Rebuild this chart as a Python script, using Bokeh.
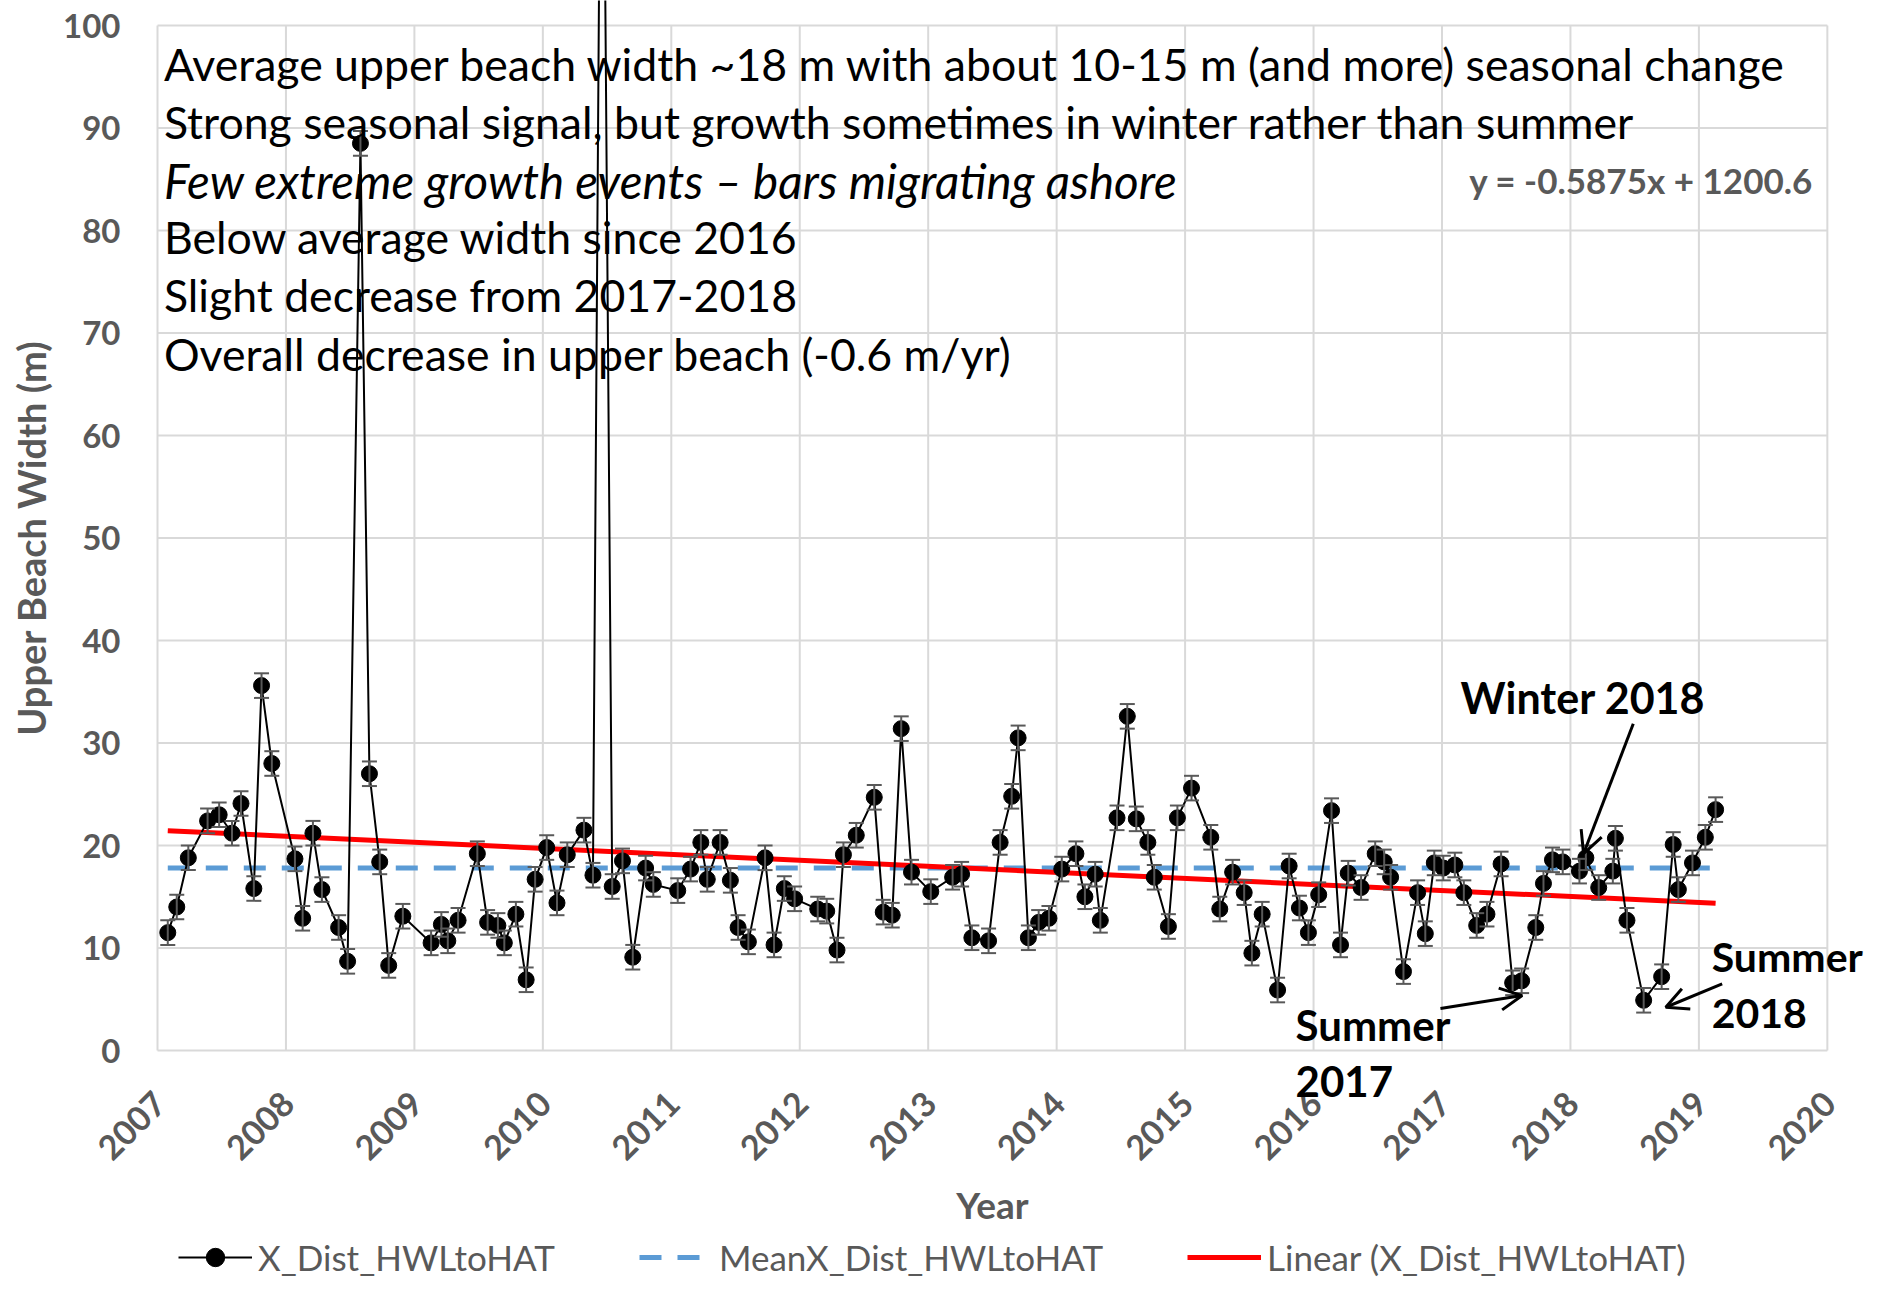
import math
from bokeh.plotting import figure
from bokeh.models import (ColumnDataSource, Whisker, TeeHead, Label, Arrow, OpenHead,
                          Legend, LegendItem, Range1d)
from bokeh.core.properties import value
from bokeh.embed import file_html
from bokeh.resources import INLINE

# ---------------- data ----------------
dates = [2007.08, 2007.15, 2007.24, 2007.39, 2007.48, 2007.58, 2007.65, 2007.75, 2007.81, 2007.89,
         2008.07, 2008.13, 2008.21, 2008.28, 2008.41, 2008.48, 2008.58, 2008.65, 2008.73, 2008.80, 2008.91,
         2009.13, 2009.21, 2009.26, 2009.34, 2009.49, 2009.57, 2009.65, 2009.70, 2009.79, 2009.87, 2009.94,
         2010.03, 2010.11, 2010.19, 2010.32, 2010.39, 2010.46, 2010.54, 2010.62, 2010.70, 2010.80, 2010.86,
         2011.05, 2011.15, 2011.23, 2011.28, 2011.38, 2011.46, 2011.52, 2011.60, 2011.73, 2011.80, 2011.88, 2011.96,
         2012.14, 2012.21, 2012.29, 2012.34, 2012.44, 2012.58, 2012.65, 2012.72, 2012.79, 2012.87,
         2013.02, 2013.19, 2013.26, 2013.34, 2013.47, 2013.56, 2013.65, 2013.70, 2013.78, 2013.86, 2013.94,
         2014.04, 2014.15, 2014.22, 2014.30, 2014.34, 2014.47, 2014.55, 2014.62, 2014.71, 2014.76, 2014.87, 2014.94,
         2015.05, 2015.20, 2015.27, 2015.37, 2015.46, 2015.52, 2015.60, 2015.72, 2015.81, 2015.89, 2015.96,
         2016.04, 2016.14, 2016.21, 2016.27, 2016.37, 2016.48, 2016.55, 2016.60, 2016.70, 2016.81, 2016.87, 2016.94,
         2017.01, 2017.10, 2017.17, 2017.27, 2017.35, 2017.46, 2017.55, 2017.62, 2017.73, 2017.79, 2017.86, 2017.94,
         2018.07, 2018.12, 2018.22, 2018.33, 2018.35, 2018.44, 2018.57, 2018.71, 2018.80, 2018.84, 2018.95,
         2019.05, 2019.13]

width_m = [11.5, 14.0, 18.8, 22.4, 23.0, 21.2, 24.1, 15.8, 35.6, 28.0,
           18.7, 12.9, 21.2, 15.7, 12.0, 8.7, 88.5, 27.0, 18.4, 8.3, 13.1,
           10.5, 12.3, 10.7, 12.7, 19.2, 12.5, 12.2, 10.5, 13.3, 6.9, 16.7,
           19.8, 14.4, 19.1, 21.5, 17.1, 145.0, 16.0, 18.5, 9.1, 17.8, 16.2,
           15.6, 17.7, 20.3, 16.7, 20.3, 16.6, 12.0, 10.6, 18.8, 10.3, 15.8, 14.8,
           13.8, 13.6, 9.8, 19.1, 21.0, 24.7, 13.5, 13.2, 31.4, 17.4,
           15.5, 16.9, 17.2, 11.0, 10.7, 20.3, 24.8, 30.5, 11.0, 12.5, 12.9,
           17.7, 19.2, 15.0, 17.2, 12.7, 22.7, 32.6, 22.6, 20.3, 16.9, 12.1, 22.7,
           25.6, 20.8, 13.8, 17.4, 15.4, 9.5, 13.3, 5.9, 18.0, 13.9, 11.5,
           15.2, 23.4, 10.3, 17.3, 15.9, 19.2, 18.4, 16.9, 7.7, 15.4, 11.4, 18.3,
           17.8, 18.1, 15.4, 12.2, 13.3, 18.2, 6.6, 6.8, 12.0, 16.3, 18.6, 18.4,
           17.5, 18.8, 15.9, 17.5, 20.7, 12.7, 4.9, 7.2, 20.1, 15.7, 18.3,
           20.8, 23.5]

error_m = 1.2                 # error bar half-height
mean_width = 17.8             # MeanX_Dist_HWLtoHAT
trend_slope = -0.5875         # y = -0.5875x + 1200.6
trend_intercept = 1200.6

year_ticks = list(range(2007, 2021))
year_labels = [str(t) for t in year_ticks]
width_ticks = list(range(0, 101, 10))
width_labels = [str(t) for t in width_ticks]
x_start, x_end = 2007, 2020
y_start, y_end = 0, 100

notes = ["Average upper beach width ~18 m with about 10-15 m (and more) seasonal change",
         "Strong seasonal signal, but growth sometimes in winter rather than summer",
         "Few extreme growth events \u2013 bars migrating ashore",
         "Below average width since 2016",
         "Slight decrease from 2017-2018",
         "Overall decrease in upper beach (-0.6 m/yr)"]
notes_italic = [False, False, True, False, False, False]

assert len(dates) == len(width_m)

# ---------------- layout / styling ----------------
FONT = "Lato"
GREY = "#595959"
GRID = "#D9D9D9"
BLUE = "#5B9BD5"
RED = "#FF0000"

W, H = 1868, 1278
AREA_LEFT, AREA_TOP = 157, 25        # where 2007 / 100 m sit on the canvas
PX_PER_YEAR = 128.45
PX_PER_M = 10.25
# the frame covers the whole canvas, so that the axis texts, callouts and legend
# outside the 2007-2020 / 0-100 plotting area are drawn too
x0_view = x_start - AREA_LEFT / PX_PER_YEAR
x1_view = x0_view + W / PX_PER_YEAR
y1_view = y_end + AREA_TOP / PX_PER_M
xr = Range1d(x0_view, x1_view)
yr = Range1d(y1_view - H / PX_PER_M, y1_view)

p = figure(width=W, height=H, output_backend="svg", toolbar_location=None,
           x_range=xr, y_range=yr,
           min_border_left=0, min_border_top=0, min_border_right=0, min_border_bottom=0)
p.frame_width = W
p.frame_height = H
p.outline_line_color = None
p.background_fill_color = "white"
p.border_fill_color = "white"
p.xgrid.visible = False
p.ygrid.visible = False
p.xaxis.visible = False
p.yaxis.visible = False

# gridlines of the plotting area
p.segment(x0=year_ticks, y0=[y_start] * len(year_ticks), x1=year_ticks, y1=[y_end] * len(year_ticks),
          line_color=GRID, line_width=2)
p.segment(x0=[x_start] * len(width_ticks), y0=width_ticks, x1=[x_end] * len(width_ticks), y1=width_ticks,
          line_color=GRID, line_width=2)

# ---------------- data glyphs ----------------
src = ColumnDataSource(dict(x=dates, y=width_m,
                            upper=[v + error_m for v in width_m],
                            lower=[v - error_m for v in width_m]))

mean_r = p.line([dates[0], dates[-1]], [mean_width, mean_width], line_color=BLUE,
                line_width=5, line_dash="22 16")
trend_x = [dates[0], dates[-1]]
trend_r = p.line(trend_x, [trend_slope * x + trend_intercept for x in trend_x],
                 line_color=RED, line_width=5)

whisk = Whisker(source=src, base="x", upper="upper", lower="lower",
                line_color=GREY, line_width=2, level="glyph",
                upper_head=TeeHead(size=15, line_color=GREY, line_width=2),
                lower_head=TeeHead(size=15, line_color=GREY, line_width=2))
p.add_layout(whisk)

data_line = p.line("x", "y", source=src, line_color="black", line_width=2)
data_pts = p.scatter("x", "y", source=src, size=16, color="black")

# y tick labels and y title
p.text(x=[x_start] * len(width_ticks), y=width_ticks, text=width_labels, x_offset=-37,
       text_align="right", text_baseline="middle", text_font=value(FONT),
       text_font_style="bold", text_color=GREY, text_font_size="33px")
p.add_layout(Label(x=x_start, x_offset=-127, y=(y_start + y_end) / 2, text="Upper Beach Width (m)",
                   angle=math.pi / 2, text_font=FONT, text_font_size="38px", text_font_style="bold",
                   text_color=GREY, text_align="center", text_baseline="middle"))

# x tick labels (rotated) and x title
p.text(x=year_ticks, y=[y_start] * len(year_ticks), text=year_labels, angle=math.pi / 4,
       text_align="right", text_baseline="middle", x_offset=2, y_offset=47,
       text_font=value(FONT), text_font_style="bold", text_color=GREY, text_font_size="34px")
p.add_layout(Label(x=(x_start + x_end) / 2, y=y_start, y_offset=-154, text="Year", text_font=FONT,
                   text_font_size="37px", text_font_style="bold", text_color=GREY,
                   text_align="center", text_baseline="middle"))

# ---------------- text annotations ----------------
note_y = [96.3, 90.6, 84.9, 79.4, 73.8, 68.0]
for txt, yy, it in zip(notes, note_y, notes_italic):
    p.add_layout(Label(x=2007.05, y=yy, text=txt, text_font=FONT,
                       text_font_size="47.5px" if it else "44.6px",
                       text_baseline="middle", text_color="black",
                       text_font_style="italic" if it else "normal"))

p.add_layout(Label(x=2019.89, y=84.9, text="y = -0.5875x + 1200.6", text_font=FONT,
                   text_font_size="35px", text_font_style="bold", text_color=GREY,
                   text_align="right", text_baseline="middle"))

callouts = [("Winter 2018", 2017.144, 34.4, "43px"), ("Summer", 2015.86, 2.44, "42px"),
            ("2017", 2015.86, -3.0, "42px"), ("Summer", 2019.10, 9.16, "41px"),
            ("2018", 2019.10, 3.6, "41px")]
for txt, xx, yy, fs in callouts:
    p.add_layout(Label(x=xx, y=yy, text=txt, text_font=FONT, text_font_size=fs,
                       text_font_style="bold", text_color="black", text_baseline="middle"))

arrows = [(2018.489, 31.87, 2018.102, 19.2), (2016.988, 4.09, 2017.624, 5.36),
          (2019.181, 6.5, 2018.742, 4.22)]
for xs, ys, xe, ye in arrows:
    p.add_layout(Arrow(x_start=xs, y_start=ys, x_end=xe, y_end=ye, line_color="black",
                       line_width=3, end=OpenHead(size=22, line_color="black", line_width=3)))

# ---------------- legend ----------------
legend = Legend(items=[LegendItem(label="X_Dist_HWLtoHAT", renderers=[data_line, data_pts]),
                       LegendItem(label="MeanX_Dist_HWLtoHAT", renderers=[mean_r]),
                       LegendItem(label="Linear (X_Dist_HWLtoHAT)", renderers=[trend_r])],
                orientation="horizontal", location=(178, -2), padding=0, margin=0,
                spacing=84, label_standoff=6, glyph_width=74, glyph_height=46,
                label_height=46,
                label_text_font=FONT, label_text_font_size="35px", label_text_color=GREY,
                background_fill_alpha=0, border_line_color=None)
p.add_layout(legend)

open("out.html", "w").write(file_html(p, INLINE))
